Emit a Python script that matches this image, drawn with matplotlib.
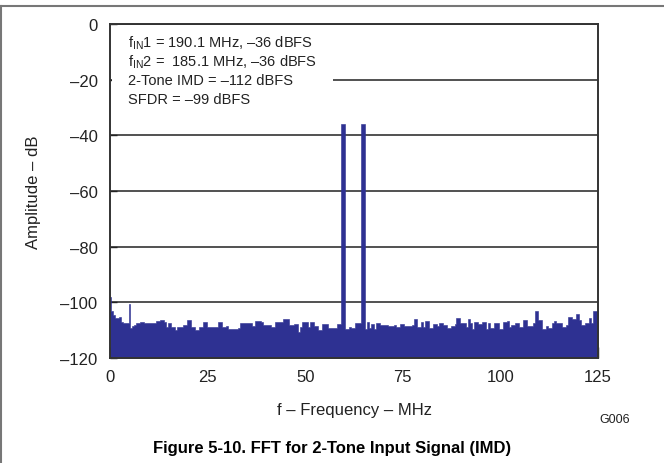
import matplotlib
matplotlib.use("Agg")
import matplotlib.pyplot as plt
import numpy as np
from matplotlib.lines import Line2D
from matplotlib.patches import Rectangle

plt.rcParams['font.family'] = ['Liberation Sans', 'DejaVu Sans']
plt.rcParams['mathtext.fontset'] = 'custom'
plt.rcParams['mathtext.rm'] = 'Liberation Sans'
plt.rcParams['mathtext.it'] = 'Liberation Sans:italic'

# FFT spectrum, one value every 0.5 MHz from 0 to 125 MHz
freq_step = 0.5
amplitude_db = [
    -98, -103, -104.5, -105.5, -105.6, -105.4, -106.9, -107.5, -107.5, -107.5,      # 0 - 4.5
    -100.5, -109.3, -108.5, -108, -107.3, -107.3, -107.2, -107.2, -107.5, -107.5,   # 5 - 9.5
    -107.3, -107.3, -107.5, -107.5, -106.7, -106.7, -106.5, -106.5, -107, -108.7,   # 10 - 14.5
    -107.5, -107.5, -108.7, -108.7, -109.9, -108.7, -108.7, -108.7, -108.1, -108.1, # 15 - 19.5
    -106.5, -106.5, -108.7, -108.7, -110, -110, -109, -109, -107.2, -107.2,         # 20 - 24.5
    -108.7, -108.7, -108.7, -108.7, -108.7, -108.7, -107.2, -107.2, -108.7, -108.7, # 25 - 29.5
    -108.5, -109.5, -109.7, -109.5, -109.7, -109.5, -109.3, -107.5, -107.3, -107.5, # 30 - 34.5
    -107.5, -107.5, -107.5, -108.5, -108.5, -106.8, -106.8, -106.8, -107.0, -108.3, # 35 - 39.5
    -108.3, -108, -108, -108.9, -108.9, -107.2, -107.2, -107.2, -107.2, -106,       # 40 - 44.5
    -106, -106, -108.3, -108.3, -108.3, -107.9, -107.9, -110.5, -109, -107,         # 45 - 49.5
    -107, -107, -108.7, -106.9, -106.9, -108.5, -108.5, -110, -110, -107.8,         # 50 - 54.5
    -107.8, -107.8, -109.3, -109.3, -109.3, -109.3, -109.3, -107.8, -107.8, -36,    # 55 - 59.5
    -36, -109.5, -109.5, -109, -109.3, -109.3, -107.5, -107.5, -107.5, -36,         # 60 - 64.5
    -36, -109.7, -106.9, -109.3, -107.7, -107.7, -109.7, -107.3, -107.3, -108,      # 65 - 69.5
    -108, -108, -108, -108.6, -108.6, -108.6, -108.2, -108.9, -108.9, -107.7,       # 70 - 74.5
    -107.7, -108.5, -108.5, -108.5, -108.5, -108, -106.1, -106.1, -108.9, -108.9,   # 75 - 79.5
    -107.2, -108.9, -106.7, -106.7, -109.3, -109.3, -107.8, -107.8, -108.5, -107.5, # 80 - 84.5
    -107.5, -108.3, -108.3, -109.3, -109.3, -108.5, -108.5, -107.8, -105.7, -105.7, # 85 - 89.5
    -107.5, -107.5, -107.5, -108.9, -106.1, -107.5, -109.7, -107.2, -107.2, -107.8, # 90 - 94.5
    -107.8, -107, -107, -109.7, -107.5, -109.3, -109.3, -107.5, -107.5, -107.5,     # 95 - 99.5
    -109.7, -109.7, -106.9, -106.9, -106.6, -108.7, -108.1, -108.1, -107.5, -107.5, # 100 - 104.5
    -109, -109, -106.3, -106.3, -108.5, -108.5, -108.5, -107.5, -103, -103,         # 105 - 109.5
    -106.3, -106.3, -109.7, -109.7, -108.5, -109.3, -109.3, -107.5, -106.6, -107.5, # 110 - 114.5
    -107.5, -107.5, -108.7, -108.7, -108.1, -105.1, -105.1, -106.1, -106.1, -104.2, # 115 - 119.5
    -104.2, -106.3, -108.1, -108.1, -107.5, -107.5, -105.7, -107.5, -103, -103,     # 120 - 124.5
    -103,                                                                            # 125
]

x_ticks = [0, 25, 50, 75, 100, 125]
y_ticks = [0, -20, -40, -60, -80, -100, -120]
info_lines = [
    "f$_{\\mathrm{IN}}$1 = 190.1 MHz, \u201336 dBFS",
    "f$_{\\mathrm{IN}}$2 =  185.1 MHz, \u201336 dBFS",
    "2-Tone IMD = \u2013112 dBFS",
    "SFDR = \u201399 dBFS",
]

freq = np.arange(len(amplitude_db)) * freq_step
amp = np.array(amplitude_db)

fig = plt.figure(figsize=(6.64, 4.64), dpi=100)
ax = fig.add_axes([110 / 664, 1 - 359 / 464, 488 / 664, 334 / 464])

ax.fill_between(freq, amp, -120, step='mid', facecolor='#2E3192',
                edgecolor='#2E3192', linewidth=0.4, zorder=3)

ax.set_xlim(0, 125)
ax.set_ylim(-120, 0)
ax.set_xticks(x_ticks)
ax.set_xticklabels([str(t) for t in x_ticks])
ax.set_yticks(y_ticks)
ax.set_yticklabels([str(t).replace('-', '\u2013') for t in y_ticks])
ax.tick_params(axis='x', direction='in', length=8, width=1, pad=8, labelsize=12, colors='#222222')
ax.tick_params(axis='y', direction='in', length=5, width=1, pad=9, labelsize=12, colors='#222222')

# horizontal gridlines only
ax.set_axisbelow(True)
ax.yaxis.grid(True, color='#222222', linewidth=1.1)
ax.xaxis.grid(False)
for s in ax.spines.values():
    s.set_color('#333333')
    s.set_linewidth(1.4)
    s.set_zorder(5)

# white box behind the info text
ax.add_patch(Rectangle((0.004, 0.74), 0.452, 0.255, transform=ax.transAxes,
                       facecolor='white', edgecolor='none', zorder=2))
for i, line in enumerate(info_lines):
    ax.text(18 / 488, 1 - (18 + 19 * i) / 334, line, transform=ax.transAxes,
            fontsize=10.5, va='center', ha='left', color='#222222', zorder=4)

ax.set_xlabel("f \u2013 Frequency \u2013 MHz", fontsize=12, labelpad=13, color='#222222')
ax.set_ylabel("Amplitude \u2013 dB", fontsize=12, labelpad=14, color='#222222')

fig.text(615 / 664, 1 - 420 / 464, "G006", fontsize=9, ha='center', va='center', color='#222222')
fig.text(0.5, 1 - 449 / 464, "Figure 5-10. FFT for 2-Tone Input Signal (IMD)",
         fontsize=12, fontweight='bold', ha='center', va='center')

# page frame: top rule and left rule
fig.add_artist(Line2D([0, 1], [1 - 7 / 464, 1 - 7 / 464], transform=fig.transFigure,
                      color='#777777', linewidth=1.5))
fig.add_artist(Line2D([1 / 664, 1 / 664], [0, 1 - 7 / 464], transform=fig.transFigure,
                      color='#777777', linewidth=1.5))

fig.savefig("out.png", dpi=100)
